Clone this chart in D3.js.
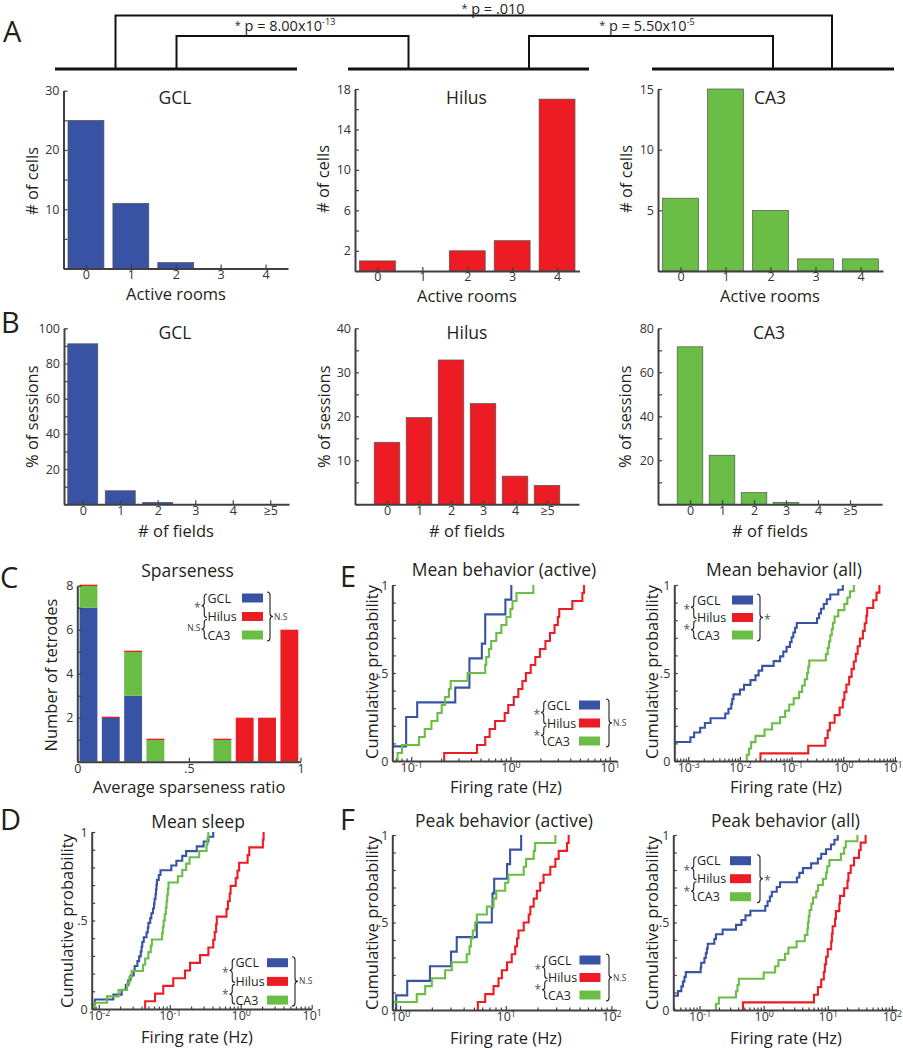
<!DOCTYPE html>
<html><head><meta charset="utf-8">
<script src="https://cdn.jsdelivr.net/npm/d3@7"></script>
<style>body{margin:0;background:#fff}</style>
</head><body>
<svg id="fig" width="903" height="1050"></svg>
<script>
// ---------------- DATA ----------------
const regions = ["GCL", "Hilus", "CA3"];
const roomCats = ["0", "1", "2", "3", "4"];
const cellsGCL = [25, 11, 1, 0, 0];
const cellsHilus = [1, 0, 2, 3, 17];
const cellsCA3 = [6, 15, 5, 1, 1];

const fieldCats = ["0", "1", "2", "3", "4", "≥5"];
const sessGCL = [91.2, 7.7, 1.1, 0, 0, 0];
const sessHilus = [14.1, 19.7, 32.8, 22.9, 6.4, 4.3];
const sessCA3 = [71.6, 22.3, 5.3, 0.9, 0, 0];

const sparseBins = [0.05, 0.15, 0.25, 0.35, 0.45, 0.55, 0.65, 0.75, 0.85, 0.95];
const sparseGCL = [7, 2, 3, 0, 0, 0, 0, 0, 0, 0];
const sparseCA3 = [1, 0, 2, 1, 0, 0, 1, 0, 0, 0];
const sparseHilus = [0, 0, 0, 0, 0, 0, 0, 2, 2, 6];

const sleepGCL = [0.0086,0.0088,0.016,0.021,0.024,0.026,0.028,0.031,0.032,0.035,0.037,0.039,0.04,0.041,0.043,0.047,0.049,0.05,0.053,0.055,0.058,0.06,0.061,0.063,0.064,0.065,0.066,0.07,0.074,0.105,0.124,0.15,0.17,0.24,0.3,0.35,0.41];
const sleepCA3 = [0.0086,0.013,0.019,0.025,0.027,0.029,0.042,0.045,0.05,0.054,0.056,0.078,0.08,0.082,0.085,0.088,0.09,0.092,0.094,0.096,0.13,0.15,0.17,0.19,0.26,0.33,0.34,0.35];
const sleepHilus = [0.045,0.062,0.081,0.112,0.164,0.193,0.267,0.35,0.41,0.43,0.45,0.46,0.63,0.66,0.7,0.72,0.85,0.9,0.95,1.25,1.32,2.05,2.1];

const meanActGCL = [0.064,0.089,0.089,0.115,0.278,0.386,0.386,0.515,0.557,0.557,0.889,1.02];
const meanActCA3 = [0.073,0.081,0.12,0.137,0.16,0.184,0.203,0.22,0.24,0.25,0.37,0.557,0.57,0.607,0.64,0.72,0.81,0.91,1.0,1.05,1.15,1.7];
const meanActHilus = [0.215,0.46,0.557,0.617,0.7,0.875,0.95,1.08,1.2,1.32,1.43,1.6,1.78,1.98,2.25,2.5,2.78,3.0,3.1,4.2,5.3,5.5];

const meanAllGCL = [0.0003,0.0004,0.0005,0.00052,0.0011,0.0013,0.0017,0.0021,0.0027,0.0052,0.006,0.0068,0.0071,0.0075,0.010,0.012,0.016,0.020,0.023,0.027,0.045,0.06,0.069,0.08,0.093,0.10,0.108,0.117,0.126,0.31,0.34,0.37,0.42,0.48,0.56,0.8,0.98];
const meanAllCA3 = [0.0136,0.015,0.0165,0.02,0.03,0.042,0.06,0.075,0.09,0.11,0.14,0.16,0.18,0.2,0.21,0.22,0.46,0.5,0.53,0.56,0.6,0.63,0.68,0.8,1.05,1.2,1.35,1.6];
const meanAllHilus = [0.025,0.21,0.45,0.5,0.55,0.68,0.85,0.98,1.05,1.15,1.3,1.45,1.6,1.75,1.9,2.1,2.4,2.6,2.8,2.9,3.8,4.4,5.0];

const peakActGCL = [0.92,1.17,1.92,3.04,3.44,5.33,7.39,7.5,7.78,10.3,11.0,14.0];
const peakActCA3 = [0.86,1.44,1.73,2.0,2.67,3.09,4.28,4.54,4.68,4.88,5.14,5.33,6.63,7.67,8.13,9.89,10.6,14.8,15.6,18.4,19.0,29.5];
const peakActHilus = [5.45,6.4,7.67,8.55,9.2,10.3,11.4,12.3,12.8,13.2,14.8,16.5,17.1,18.4,19.7,21.2,22.8,26.4,29.5,31.7,38.0,39.4];

const peakAllGCL = [0.03,0.035,0.038,0.046,0.052,0.055,0.058,0.061,0.104,0.106,0.119,0.125,0.13,0.134,0.17,0.18,0.229,0.37,0.45,0.52,0.62,1.06,1.15,1.25,1.34,1.6,1.8,3.3,3.6,4.1,5.5,7.0,7.9,9.4,11.2,12.7,14.3];
const peakAllCA3 = [0.18,0.2,0.37,0.39,0.41,1.0,1.51,1.7,2.15,2.43,3.26,4.38,4.81,4.9,5.04,5.2,5.54,5.88,6.62,7.02,8.38,9.42,9.8,10.6,16.0,18.0,19.1,29.0];
const peakAllHilus = [0.475,6.09,7.02,7.9,8.68,9.0,9.42,10.0,11.3,11.6,11.9,13.0,13.4,15.1,15.5,18.0,20.3,21.0,22.8,25.7,30.7,32.6,38.9];

const pOuter = ".010";
const pLeft = { mant: "8.00", exp: "-13" };
const pRight = { mant: "5.50", exp: "-5" };

// ---------------- STYLE ----------------
const FONT = "'Open Sans', 'Noto Sans', sans-serif";
const COLORS = { GCL: "#3953a4", Hilus: "#ed1c24", CA3: "#6abd45" };
const AXC = "#404040", TXC = "#231f20";
const TICKFS = 12.5, LABFS = 16.5, TITFS = 17.5;
const svg = d3.select("#fig").attr("font-family", FONT);

function txt(g, x, y, s, o = {}) {
  const t = g.append("text").attr("x", x).attr("y", y).text(s)
    .attr("font-size", o.size || 16).attr("fill", o.fill || TXC)
    .attr("text-anchor", o.anchor || "middle");
  if (o.rotate) t.attr("transform", `rotate(-90 ${x} ${y})`);
  return t;
}
function styleAxis(g) {
  g.attr("font-family", FONT).attr("font-size", TICKFS);
  g.select(".domain").attr("stroke", AXC).attr("stroke-width", 2);
  g.selectAll(".tick line").attr("stroke", AXC).attr("stroke-width", 1.2);
  g.selectAll(".tick text").attr("fill", "#333");
}

// ---------------- LETTERS ----------------
[["A", 3, 42], ["B", 1, 333], ["C", 0, 588], ["D", 0, 830], ["E", 340, 587], ["F", 340, 830]]
  .forEach(([l, x, y]) => txt(svg, x, y, l, { size: 29, anchor: "start" }));

// ---------------- SIGNIFICANCE BRACKETS ----------------
const br = svg.append("g").attr("stroke", "#111").attr("fill", "none");
[[55, 297], [348, 589], [652, 894]].forEach(([a, b]) =>
  br.append("line").attr("x1", a).attr("x2", b).attr("y1", 69).attr("y2", 69).attr("stroke-width", 3));
function bracket(x1, x2, yTop) {
  br.append("path").attr("d", `M${x1},69 V${yTop} H${x2} V69`).attr("stroke-width", 2);
}
bracket(115.5, 832, 15.5);
bracket(176.5, 408.5, 36);
bracket(529, 773, 36);
function pText(x, y, mant, exp) {
  const t = svg.append("text").attr("x", x).attr("y", y).attr("text-anchor", "middle")
    .attr("font-size", 14.5).attr("fill", TXC);
  t.append("tspan").attr("font-size", 11).attr("dy", -2).text("*");
  t.append("tspan").attr("dy", 2).text(" p = " + mant + (exp ? "x10" : ""));
  if (exp) t.append("tspan").attr("font-size", 9).attr("dy", -6).text(exp);
}
pText(493, 13.5, pOuter, null);
pText(285, 31, pLeft.mant, pLeft.exp);
pText(647, 31, pRight.mant, pRight.exp);

// ---------------- BAR PANELS ----------------
function barPanel(o) {
  const x = d3.scaleLinear().domain(o.xDomain).range(o.xRange);
  const y = d3.scaleLinear().domain(o.yDomain).range(o.yRange);
  const g = svg.append("g");
  const bw = x(0.4) - x(-0.4);
  g.selectAll("rect").data(o.values.map((v, i) => ({ v, i })).filter(d => d.v > 0)).join("rect")
    .attr("x", d => x(d.i - 0.4)).attr("width", bw)
    .attr("y", d => y(d.v)).attr("height", d => y(0) - y(d.v))
    .attr("fill", o.color).attr("stroke", "#555").attr("stroke-width", 0.7);
  const ya = g.append("g").attr("transform", `translate(${o.xRange[0]},0)`)
    .call(d3.axisLeft(y).tickValues(o.yTicks).tickFormat(d => o.yLabels.includes(d) ? d : "")
      .tickSize(-4).tickSizeOuter(0).tickPadding(4));
  const xa = g.append("g").attr("transform", `translate(0,${o.yRange[0]})`)
    .call(d3.axisBottom(x).tickValues(o.cats.map((c, i) => i)).tickFormat(i => o.cats[i])
      .tickSize(-4).tickSizeOuter(0).tickPadding(1.5));
  styleAxis(ya); styleAxis(xa);
  txt(g, o.title[0], o.title[1], o.titleText, { size: TITFS });
  txt(g, o.xlab[0], o.xlab[1], o.xlabText, { size: LABFS });
  txt(g, o.ylab[0], o.ylab[1], o.ylabText, { size: LABFS, rotate: true });
}
const r5 = (a, b, s) => d3.range(a, b + 1e-9, s);
barPanel({ values: cellsGCL, cats: roomCats, color: COLORS.GCL, xDomain: [-0.5, 4.5], xRange: [63.5, 288],
  yDomain: [0, 30], yRange: [268.5, 90.7], yTicks: r5(0, 30, 5), yLabels: [10, 20, 30],
  title: [175, 104], titleText: "GCL", xlab: [176, 299.5], xlabText: "Active rooms", ylab: [37.5, 181], ylabText: "# of cells" });
barPanel({ values: cellsHilus, cats: roomCats, color: COLORS.Hilus, xDomain: [-0.5, 4.5], xRange: [355, 579.5],
  yDomain: [0, 18], yRange: [271, 89], yTicks: r5(0, 18, 2), yLabels: [2, 6, 10, 14, 18],
  title: [466.5, 104], titleText: "Hilus", xlab: [467, 302], xlabText: "Active rooms", ylab: [329, 179], ylabText: "# of cells" });
barPanel({ values: cellsCA3, cats: roomCats, color: COLORS.CA3, xDomain: [-0.5, 4.5], xRange: [658, 883],
  yDomain: [0, 15], yRange: [271, 89], yTicks: r5(0, 15, 5), yLabels: [5, 10, 15],
  title: [770, 104], titleText: "CA3", xlab: [770, 302], xlabText: "Active rooms", ylab: [631.5, 179], ylabText: "# of cells" });

barPanel({ values: sessGCL, cats: fieldCats, color: COLORS.GCL, xDomain: [-0.5, 5.5], xRange: [64, 289],
  yDomain: [0, 100], yRange: [504.3, 328.3], yTicks: r5(0, 100, 10), yLabels: [20, 40, 60, 80, 100],
  title: [175, 339], titleText: "GCL", xlab: [176, 537], xlabText: "# of fields", ylab: [38, 416.7], ylabText: "% of sessions" });
barPanel({ values: sessHilus, cats: fieldCats, color: COLORS.Hilus, xDomain: [-1, 6], xRange: [355, 579],
  yDomain: [0, 40], yRange: [504.3, 328.3], yTicks: r5(0, 40, 5), yLabels: [10, 20, 30, 40],
  title: [467, 339], titleText: "Hilus", xlab: [467, 537], xlabText: "# of fields", ylab: [330, 416.7], ylabText: "% of sessions" });
barPanel({ values: sessCA3, cats: fieldCats, color: COLORS.CA3, xDomain: [-1, 6], xRange: [658, 882],
  yDomain: [0, 80], yRange: [504.3, 328.3], yTicks: r5(0, 80, 10), yLabels: [20, 40, 60, 80],
  title: [769, 339], titleText: "CA3", xlab: [770, 537], xlabText: "# of fields", ylab: [631.5, 416.7], ylabText: "% of sessions" });

// ---------------- LEGEND ----------------
function brace(g, x, y0, y1, w, dir) {
  const ym = (y0 + y1) / 2, h = x + dir * w / 2, q = Math.min(3, (y1 - y0) / 4);
  g.append("path").attr("fill", "none").attr("stroke", "#222").attr("stroke-width", 1.1)
    .attr("d", `M${x},${y0} Q${h},${y0} ${h},${y0 + q} L${h},${ym - q} Q${h},${ym} ${x + dir * w},${ym} Q${h},${ym} ${h},${ym + q} L${h},${y1 - q} Q${h},${y1} ${x},${y1}`);
}
function mark(g, x, y, s, anchor) {
  if (s === "*") txt(g, x, y + 6, "*", { size: 12, anchor, fill: "#555" });
  else txt(g, x, y + 3, s, { size: 8.5, anchor, fill: "#444" });
}
function legend(o) {
  const g = svg.append("g");
  regions.forEach((r, i) => {
    const yy = o.ty + i * o.dy;
    txt(g, o.tx, yy + 4.5, r, { size: 12.5, anchor: "start" });
    g.append("rect").attr("x", o.swx).attr("y", yy - 4.5).attr("width", 21).attr("height", 9).attr("fill", COLORS[r]);
  });
  const lx = o.tx - 0.5, w = 5.5;
  brace(g, lx, o.ty - 4, o.ty + o.dy + 1, w, -1);
  brace(g, lx, o.ty + o.dy + 3, o.ty + 2 * o.dy + 4, w, -1);
  mark(g, lx - w - 1, o.ty + o.dy / 2 - 1, o.left[0], "end");
  mark(g, lx - w - 1, o.ty + 1.5 * o.dy + 2, o.left[1], "end");
  brace(g, o.rbx, o.ty - 6, o.ty + 2 * o.dy + 6, 6, 1);
  mark(g, o.rbx + 7, o.ty + o.dy, o.right, "start");
}

// ---------------- PANEL C ----------------
(function () {
  const x = d3.scaleLinear().domain([0, 1]).range([77.3, 300.5]);
  const y = d3.scaleLinear().domain([0, 8]).range([761.7, 585.7]);
  const rows = sparseBins.map((b, i) => ({ b, GCL: sparseGCL[i], CA3: sparseCA3[i], Hilus: sparseHilus[i] }));
  const stack = d3.stack().keys(["GCL", "CA3", "Hilus"])(rows);
  const g = svg.append("g");
  stack.forEach(layer => {
    g.selectAll(null).data(layer.filter(d => d[1] > d[0])).join("rect")
      .attr("x", d => x(d.data.b - 0.04)).attr("width", x(0.08) - x(0))
      .attr("y", d => y(d[1])).attr("height", d => y(d[0]) - y(d[1]))
      .attr("fill", COLORS[layer.key]);
  });
  g.selectAll(null).data(rows.filter(d => d.Hilus === 0 && d.GCL + d.CA3 > 0)).join("rect")
    .attr("x", d => x(d.b - 0.04)).attr("width", x(0.08) - x(0))
    .attr("y", d => y(d.GCL + d.CA3) - 1).attr("height", 1.3).attr("fill", COLORS.Hilus);
  const ya = g.append("g").attr("transform", "translate(77.3,0)")
    .call(d3.axisLeft(y).tickValues(r5(0, 8, 1)).tickFormat(d => d > 0 && d % 2 === 0 ? d : "")
      .tickSize(-4).tickSizeOuter(0).tickPadding(4));
  const xa = g.append("g").attr("transform", "translate(0,761.7)")
    .call(d3.axisBottom(x).tickValues([0, 0.5, 1]).tickFormat(d => d === 0 ? "0" : d === 1 ? "1" : ".5")
      .tickSize(-4).tickSizeOuter(0).tickPadding(2));
  styleAxis(ya); styleAxis(xa);
  txt(g, 187.5, 577, "Sparseness", { size: TITFS });
  txt(g, 189, 793, "Average sparseness ratio", { size: LABFS });
  txt(g, 57, 675, "Number of tetrodes", { size: LABFS, rotate: true });
  legend({ tx: 207.5, ty: 598, dy: 18.5, swx: 242, rbx: 267, left: ["*", "N.S"], right: "N.S" });
})();

// ---------------- ECDF PANELS ----------------
let clipN = 0;
function ecdfPanel(o) {
  const x = d3.scaleLog().domain(o.xDomain).range(o.xRange);
  const y = d3.scaleLinear().domain([0, 1]).range(o.yRange);
  const g = svg.append("g");
  const id = "clip" + (clipN++);
  g.append("clipPath").attr("id", id).append("rect")
    .attr("x", o.xRange[0]).attr("y", o.yRange[1] - 3)
    .attr("width", o.xRange[1] - o.xRange[0]).attr("height", o.yRange[0] - o.yRange[1] + 3);
  const line = d3.line().x(d => x(d[0])).y(d => y(d[1]));
  o.series.forEach(s => {
    const v = s.vals.slice().sort((a, b) => a - b), n = v.length;
    const pts = [[v[0], 0]];
    v.forEach((val, i) => { pts.push([val, i / n]); pts.push([val, (i + 1) / n]); });
    g.append("path").attr("clip-path", `url(#${id})`).attr("d", line(pts))
      .attr("fill", "none").attr("stroke", COLORS[s.key]).attr("stroke-width", 2.1);
  });
  const [d0, d1] = o.xDomain;
  const ticks = [];
  for (let e = Math.floor(Math.log10(d0)); e <= Math.ceil(Math.log10(d1)); e++)
    for (let m = 1; m <= 9; m++) { const t = m * Math.pow(10, e); if (t >= d0 * 0.9999 && t <= d1 * 1.0001) ticks.push(t); }
  const xa = g.append("g").attr("transform", `translate(0,${o.yRange[0]})`)
    .call(d3.axisBottom(x).tickValues(ticks).tickFormat(() => "").tickSize(-4).tickSizeOuter(0).tickPadding(2.5));
  styleAxis(xa);
  xa.selectAll(".tick").each(function (d) {
    const lg = Math.log10(d), major = Math.abs(lg - Math.round(lg)) < 1e-6;
    const t = d3.select(this);
    t.select("line").attr("y2", major ? -4 : -2.5);
    if (major) {
      const tx = t.select("text");
      tx.append("tspan").text("10");
      tx.append("tspan").attr("dy", "-0.45em").attr("font-size", "0.7em").text(Math.round(lg));
      const px = x(d), bb = tx.node().getBBox();
      const over = px + bb.width / 2 - 902;
      if (over > 0) tx.attr("x", -over);
    }
  });
  const ya = g.append("g").attr("transform", `translate(${o.xRange[0]},0)`)
    .call(d3.axisLeft(y).tickValues(d3.range(0, 11).map(i => i / 10))
      .tickFormat(d => d === 0 ? "0" : d === 1 ? "1" : Math.abs(d - 0.5) < 1e-9 ? ".5" : "")
      .tickSize(-3.5).tickSizeOuter(0).tickPadding(4));
  styleAxis(ya);
  txt(g, o.title[0], o.title[1], o.titleText, { size: TITFS });
  txt(g, o.xlab[0], o.xlab[1], "Firing rate (Hz)", { size: LABFS });
  txt(g, o.ylab[0], o.ylab[1], "Cumulative probability", { size: LABFS, rotate: true });
  legend(o.legend);
}
const ser = (a, b, c) => [{ key: "GCL", vals: a }, { key: "Hilus", vals: b }, { key: "CA3", vals: c }];

ecdfPanel({ xDomain: [Math.pow(10, -2.1), 10], xRange: [91.7, 311.7], yRange: [1009, 832],
  series: ser(sleepGCL, sleepHilus, sleepCA3), title: [198, 828], titleText: "Mean sleep",
  xlab: [197, 1042.5], ylab: [73, 921],
  legend: { tx: 235.5, ty: 962.7, dy: 18.7, swx: 267, rbx: 292, left: ["*", "*"], right: "N.S" } });

ecdfPanel({ xDomain: [Math.pow(10, -1.19), Math.pow(10, 1.07)], xRange: [392.3, 616.7], yRange: [761, 585],
  series: ser(meanActGCL, meanActHilus, meanActCA3), title: [504, 576], titleText: "Mean behavior (active)",
  xlab: [506, 792.5], ylab: [378, 672],
  legend: { tx: 547, ty: 705, dy: 18, swx: 579, rbx: 606, left: ["*", "*"], right: "N.S" } });

ecdfPanel({ xDomain: [Math.pow(10, -3.27), Math.pow(10, 1.04)], xRange: [674.3, 897], yRange: [761, 585],
  series: ser(meanAllGCL, meanAllHilus, meanAllCA3), title: [784, 576], titleText: "Mean behavior (all)",
  xlab: [786, 792.5], ylab: [658, 672],
  legend: { tx: 697, ty: 600, dy: 17.5, swx: 732, rbx: 757, left: ["*", "*"], right: "*" } });

ecdfPanel({ xDomain: [Math.pow(10, -0.073), Math.pow(10, 2.05)], xRange: [392.3, 616.7], yRange: [1010, 835],
  series: ser(peakActGCL, peakActHilus, peakActCA3), title: [504, 827], titleText: "Peak behavior (active)",
  xlab: [506, 1043.5], ylab: [378, 923],
  legend: { tx: 548, ty: 960, dy: 17.5, swx: 579.5, rbx: 606, left: ["*", "*"], right: "N.S" } });

ecdfPanel({ xDomain: [Math.pow(10, -1.41), Math.pow(10, 2.08)], xRange: [673.3, 897], yRange: [1010, 835],
  series: ser(peakAllGCL, peakAllHilus, peakAllCA3), title: [785.5, 827], titleText: "Peak behavior (all)",
  xlab: [786, 1043.5], ylab: [658, 923],
  legend: { tx: 697, ty: 860.7, dy: 18, swx: 730, rbx: 757, left: ["*", "*"], right: "*" } });
</script>
</body></html>
